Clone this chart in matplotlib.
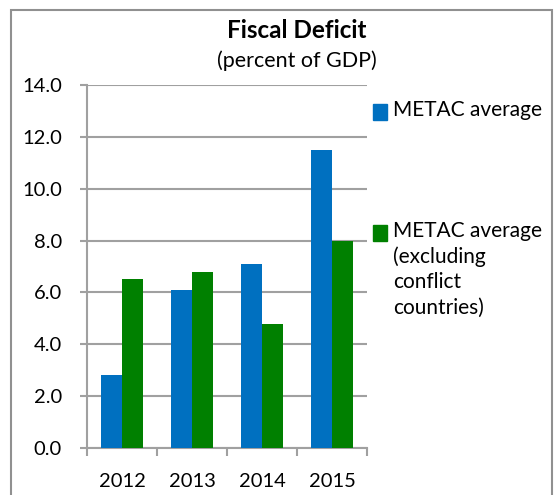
import numpy as np
import matplotlib
matplotlib.use("Agg")
import matplotlib.pyplot as plt
from matplotlib.patches import Rectangle

plt.rcParams["font.family"] = ["Lato", "DejaVu Sans"]

years = ["2012", "2013", "2014", "2015"]
metac_avg = [2.8, 6.1, 7.1, 11.5]
metac_excl = [6.5, 6.8, 4.8, 8.0]
series_names = ["METAC average", "METAC average\n(excluding\nconflict\ncountries)"]
colors = ["#0070C0", "#008000"]

W, H = 556, 495
fig = plt.figure(figsize=(W / 100, H / 100), dpi=100)
ax = fig.add_axes([87 / W, 1 - 448 / H, 280 / W, 363 / H])

x = np.arange(len(years))
bw = 0.295
ax.bar(x - bw / 2, metac_avg, bw, color=colors[0], zorder=3)
ax.bar(x + bw / 2, metac_excl, bw, color=colors[1], zorder=3)

ax.set_xlim(-0.5, len(years) - 0.5)
ax.set_ylim(0, 14)
yt = np.arange(0, 14.1, 2)
ax.set_yticks(yt)
ax.set_yticklabels([f"{v:.1f}" for v in yt])
ax.set_xticks(x)
ax.set_xticklabels(years)
ax.set_xticks(np.arange(-0.5, len(years)), minor=True)

grid_c = "#A0A0A0"
ax.grid(axis="y", color=grid_c, linewidth=1.5, zorder=0)
for s in ["top", "right"]:
    ax.spines[s].set_visible(False)
for s in ["left", "bottom"]:
    ax.spines[s].set_color(grid_c)
    ax.spines[s].set_linewidth(1.5)
ax.tick_params(axis="y", length=5, width=1.5, color=grid_c, labelsize=14.5, pad=13)
ax.tick_params(axis="x", which="major", length=0, labelsize=14.5, pad=18)
ax.tick_params(axis="x", which="minor", length=6, width=1.5, color=grid_c)

# titles
fig.text(297 / W, 1 - 30 / H, "Fiscal Deficit", ha="center", va="center",
         fontsize=17.5, fontweight="bold")
fig.text(297 / W, 1 - 61 / H, "(percent of GDP)", ha="center", va="center",
         fontsize=15.5)

# legend, drawn by hand so the swatch sits on the first line
leg_y = [112, 233]
for name, c, yy in zip(series_names, colors, leg_y):
    fig.add_artist(Rectangle((373 / W, 1 - (yy + 8) / H), 14 / W, 16 / H,
                             transform=fig.transFigure, color=c))
    fig.text(393 / W, 1 - (yy - 12) / H, name, ha="left", va="top",
             fontsize=15, linespacing=1.33)

# outer border
fig.add_artist(Rectangle((11 / W, -0.05), (552 - 11) / W, 1 - 10 / H + 0.05,
                         transform=fig.transFigure, fill=False,
                         edgecolor="#909090", linewidth=1.5))

fig.savefig("out.png", dpi=100)
